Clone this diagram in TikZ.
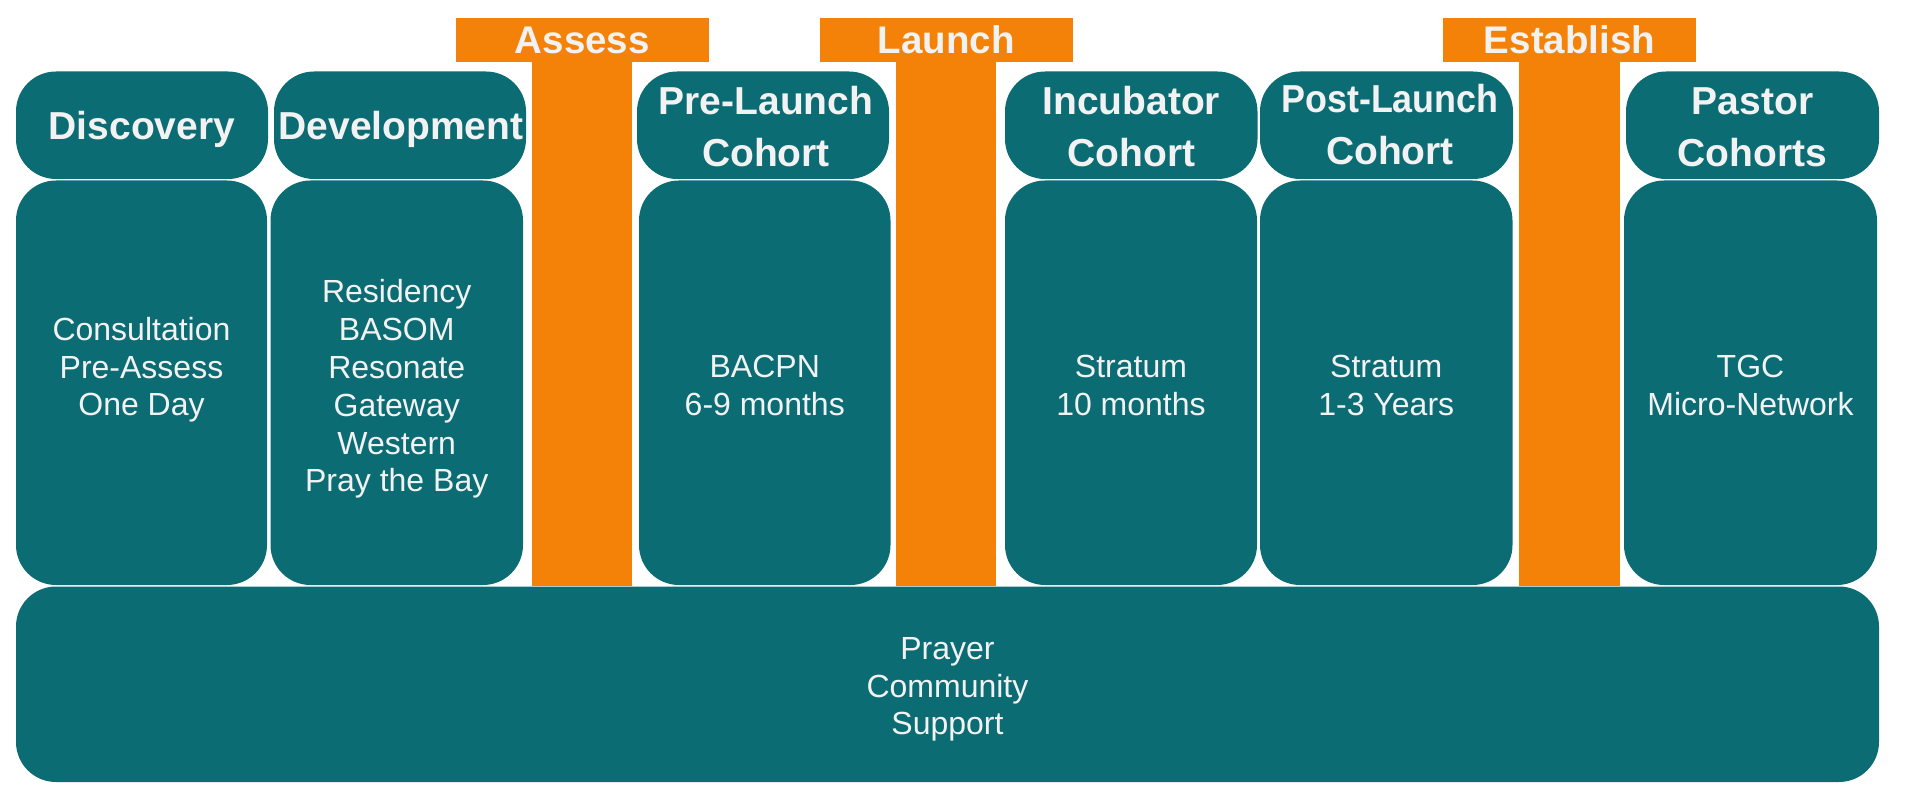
\documentclass[tikz,border=0pt]{standalone}
\usepackage{fontspec}
\setmainfont{Liberation Sans}
\definecolor{tealbox}{RGB}{12,108,116}
\definecolor{orng}{RGB}{245,130,8}
\definecolor{txt}{RGB}{242,242,242}
\begin{document}
\begin{tikzpicture}[x=1pt,y=-1pt,
  box/.style={fill=tealbox, rounded corners=40pt, inner sep=0pt, outer sep=0pt, draw=none},
  bar/.style={fill=orng, inner sep=0pt, outer sep=0pt, draw=none},
  hd/.style={text=txt, font=\fontsize{39}{52}\selectfont\bfseries, align=center, inner sep=0pt, anchor=north, execute at begin node=\rule{0pt}{40pt}},
  bartext/.style={text=txt, font=\fontsize{38.5}{46}\selectfont\bfseries, inner sep=0pt, anchor=north, execute at begin node=\rule{0pt}{40pt}},
  bd/.style={text=txt, font=\fontsize{32}{37.8}\selectfont, align=center, inner sep=0pt, anchor=north, execute at begin node=\rule{0pt}{30pt}}]
\useasboundingbox (0,0) rectangle (1920,802);

% orange T-shapes
\node[bar, minimum width=100, minimum height=523.5] (assessS) at (582,324.25) {};
\node[bar, minimum width=252.5, minimum height=44] (assessT) at (582.25,40.5) {};
\node[bar, minimum width=100, minimum height=523.5] (launchS) at (946,324.25) {};
\node[bar, minimum width=252.5, minimum height=44] (launchT) at (946.25,40.5) {};
\node[bar, minimum width=101, minimum height=523.5] (estS) at (1569.5,324.25) {};
\node[bar, minimum width=253, minimum height=44] (estT) at (1569.5,40.5) {};
\node[bartext] (assessL) at (582.25,13.7) {Assess};
\node[bartext] (launchL) at (946.25,13.7) {Launch};
\node[bartext] (estL) at (1569.5,13.7) {Establish};

% headers
\node[box, minimum width=252, minimum height=107.5] (h1) at (142,125.25) {};
\node[box, minimum width=252, minimum height=107.5] (h2) at (400,125.25) {};
\node[box, minimum width=252, minimum height=107.5] (h3) at (763,125.25) {};
\node[box, minimum width=252.5, minimum height=107.5] (h4) at (1131.25,125.25) {};
\node[box, minimum width=253, minimum height=107.5] (h5) at (1386.5,125.25) {};
\node[box, minimum width=253, minimum height=107.5] (h6) at (1752.5,125.25) {};

\node[hd] (t1) at (142,99.3) {Discovery};
\node[hd] (t2) at (401,99.3) {Development};
\node[hd] (t3) at (766,86.5) {Pre-Launch\\Cohort};
\node[hd] (t4) at (1131.25,86.5) {Incubator\\Cohort};
\node[hd] (t5) at (1390,84.5) {\scalebox{0.92}[1]{Post-Launch}\\Cohort};
\node[hd] (t6) at (1752.5,87.5) {Pastor\\Cohorts};

% bodies
\node[box, minimum width=251, minimum height=404.5] (b1) at (141.5,382.75) {};
\node[box, minimum width=252.5, minimum height=404.5] (b2) at (396.75,382.75) {};
\node[box, minimum width=251.5, minimum height=404.5] (b3) at (764.75,382.75) {};
\node[box, minimum width=252, minimum height=404.5] (b4) at (1131,382.75) {};
\node[box, minimum width=252.5, minimum height=404.5] (b5) at (1386.25,382.75) {};
\node[box, minimum width=253, minimum height=404.5] (b6) at (1750.5,382.75) {};

\node[bd] (x1) at (141.5,317) {Consultation\\Pre-Assess\\One Day};
\node[bd] (x2) at (396.75,279.5) {Residency\\BASOM\\Resonate\\Gateway\\Western\\Pray the Bay};
\node[bd] (x3) at (764.75,355) {BACPN\\6-9 months};
\node[bd] (x4) at (1131,355) {Stratum\\10 months};
\node[bd] (x5) at (1386.25,355) {Stratum\\1-3 Years};
\node[bd] (x6) at (1750.5,355) {TGC\\Micro-Network};

% bottom
\node[box, minimum width=1863, minimum height=195.5] (base) at (947.5,684.25) {};
\node[bd] (xb) at (947.5,637) {Prayer\\Community\\Support};
\end{tikzpicture}
\end{document}
